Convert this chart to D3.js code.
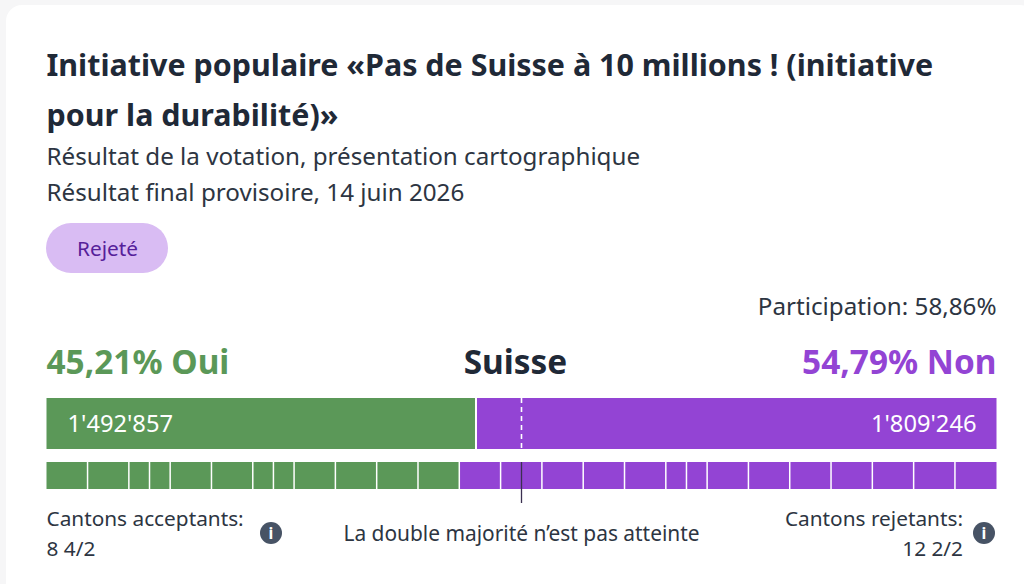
<!DOCTYPE html>
<html lang="fr">
<head>
<meta charset="utf-8">
<title>Votation</title>
<script src="https://cdn.jsdelivr.net/npm/d3@7"></script>
<style>
html,body{margin:0;padding:0;background:#fff;overflow:hidden}
svg{display:block}
text{font-family:"Noto Sans",sans-serif}
</style>
</head>
<body>
<svg id="chart" width="1024" height="584"></svg>
<script>
// Vote totals and percentages
const voteLabels = ["Oui", "Non"];
const voteCounts = [1492857, 1809246];
const votePercents = ["45,21%", "54,79%"];
const voteCountLabels = ["1'492'857", "1'809'246"];

// Canton weights in order along the strip: 1 = full canton, 0.5 = half canton
const cantonsYes = [1, 1, 0.5, 0.5, 1, 1, 0.5, 0.5, 1, 1, 1, 1];
const cantonsNo = [1, 1, 1, 1, 1, 0.5, 0.5, 1, 1, 1, 1, 1, 1, 1];

const titleLines = ["Initiative populaire «Pas de Suisse à 10 millions ! (initiative", "pour la durabilité)»"];
const subtitleLines = ["Résultat de la votation, présentation cartographique", "Résultat final provisoire, 14 juin 2026"];

const GREEN = "#5b9858", PURPLE = "#9344d4", INK = "#1f2937", BODY = "#2d3542";
const left = 46.5, right = 996.5;

const svg = d3.select("#chart");

// Page backdrop and rounded card
svg.append("rect").attr("width", 1024).attr("height", 584).attr("fill", "#f6f6f7");
svg.append("rect").attr("x", 6).attr("y", 5).attr("width", 1030).attr("height", 600).attr("rx", 16).attr("fill", "#fff");

const addText = (x, y, str, size, opts = {}) => svg.append("text")
  .attr("x", x).attr("y", y).text(str)
  .attr("font-size", size)
  .attr("font-weight", opts.weight || 400)
  .attr("fill", opts.fill || BODY)
  .attr("text-anchor", opts.anchor || "start");

// Heading block
titleLines.forEach((t, i) => addText(46.5, 75.6 + i * 50, t, 30.45, {weight: 700, fill: INK}));
subtitleLines.forEach((t, i) => addText(46.5, 165 + i * 35.5, t, 24.2));

// Result pill
svg.append("rect").attr("x", 46).attr("y", 223).attr("width", 122).attr("height", 50).attr("rx", 25).attr("fill", "#d9bcf3");
addText(107.5, 256, "Rejeté", 20.8, {anchor: "middle", fill: "#56209a"});

addText(996.5, 315, "Participation: 58,86%", 24.2, {anchor: "end"});

// Headline figures
addText(46.5, 373.8, `${votePercents[0]} ${voteLabels[0]}`, 33.4, {weight: 700, fill: GREEN});
addText(515.5, 373.8, "Suisse", 33.4, {weight: 700, fill: INK, anchor: "middle"});
addText(996.5, 373.8, `${votePercents[1]} ${voteLabels[1]}`, 33.4, {weight: 700, fill: PURPLE, anchor: "end"});

// Popular vote bar
const voteTotal = d3.sum(voteCounts);
const xVotes = d3.scaleLinear().domain([0, voteTotal]).range([left, right]);
const voteStacks = voteCounts.map((v, i) => ({
  v, i, start: d3.sum(voteCounts.slice(0, i)), end: d3.sum(voteCounts.slice(0, i + 1))
}));
svg.append("g").selectAll("rect").data(voteStacks).join("rect")
  .attr("x", d => xVotes(d.start) + (d.i ? 1 : 0))
  .attr("y", 398)
  .attr("width", d => xVotes(d.end) - xVotes(d.start) - 1)
  .attr("height", 51)
  .attr("fill", d => d.i ? PURPLE : GREEN);

addText(67.5, 432, voteCountLabels[0], 23.7, {fill: "#fff"});
addText(976.5, 432, voteCountLabels[1], 23.7, {fill: "#fff", anchor: "end"});

// Absolute-majority marker on the vote bar
svg.append("line")
  .attr("x1", xVotes(voteTotal / 2)).attr("x2", xVotes(voteTotal / 2))
  .attr("y1", 398).attr("y2", 449)
  .attr("stroke", "#fff").attr("stroke-width", 1.6).attr("stroke-dasharray", "5 4");

// Canton strip, scaled by cantonal votes
const cantonCells = [];
let acc = 0;
cantonsYes.forEach(w => { cantonCells.push({w, start: acc, yes: true}); acc += w; });
cantonsNo.forEach(w => { cantonCells.push({w, start: acc, yes: false}); acc += w; });
const xCantons = d3.scaleLinear().domain([0, acc]).range([left, right]);
const gapBefore = d => d.start > 0 ? 0.5 : 0;
const gapAfter = d => d.start + d.w < acc ? 1 : 0;
svg.append("g").selectAll("rect").data(cantonCells).join("rect")
  .attr("x", d => xCantons(d.start) + gapBefore(d))
  .attr("y", 462)
  .attr("width", d => xCantons(d.start + d.w) - xCantons(d.start) - gapBefore(d) - gapAfter(d))
  .attr("height", 27)
  .attr("fill", d => d.yes ? GREEN : PURPLE);

// Majority of cantons marker
svg.append("line")
  .attr("x1", xCantons(acc / 2)).attr("x2", xCantons(acc / 2))
  .attr("y1", 462).attr("y2", 503)
  .attr("stroke", "#3b3050").attr("stroke-width", 1.3);

// Footer
addText(46.5, 526, "Cantons acceptants:", 20.8);
addText(46.5, 556, "8 4/2", 20.8);
addText(521.5, 541, "La double majorité n’est pas atteinte", 20.9, {anchor: "middle"});
addText(963, 526, "Cantons rejetants:", 20.8, {anchor: "end"});
addText(963, 556, "12 2/2", 20.8, {anchor: "end"});

// Info badges
[271, 984].forEach(cx => {
  svg.append("circle").attr("cx", cx).attr("cy", 533).attr("r", 11).attr("fill", "#475365");
  svg.append("text").attr("x", cx).attr("y", 539).attr("text-anchor", "middle")
    .attr("font-size", 16).attr("font-weight", 700).attr("fill", "#fff").text("i");
});
</script>
</body>
</html>
